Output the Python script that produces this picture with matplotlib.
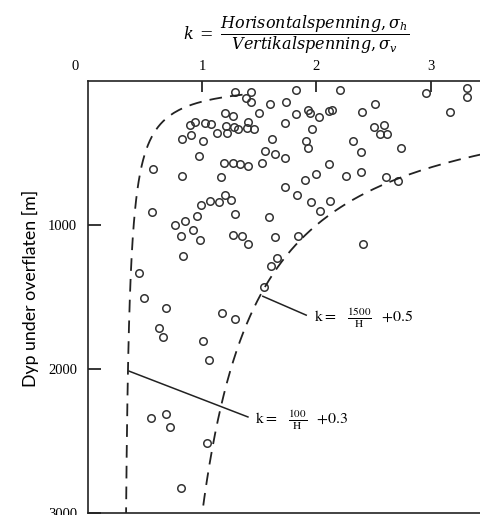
import numpy as np
import matplotlib.pyplot as plt

# k-verdier (horisontal/vertikal spenning) og dyp H [m] lest av figuren
k_obs = [1.29, 1.43, 1.38, 1.43, 1.59, 1.73, 1.82, 1.20, 1.27, 1.50,
         0.89, 0.94, 1.02, 1.08, 1.13, 0.82, 0.90, 1.01, 0.97, 0.57,
         0.82, 1.16, 1.21, 1.28, 1.31, 1.40, 1.39, 1.45, 1.22, 1.72,
         1.82, 1.93, 1.94, 2.02, 2.11, 2.14, 1.96, 1.61, 1.91, 1.93,
         1.55, 1.64, 1.72, 1.19, 1.27, 1.33, 1.40, 1.52, 1.72, 1.90,
         2.00, 2.11, 2.21, 2.40, 2.51, 2.50, 2.59, 2.56, 2.62, 2.96,
         3.32, 3.32, 3.17, 2.32, 2.39, 2.74, 2.26, 2.39, 2.61, 2.71,
         0.56, 0.76, 0.85, 0.92, 0.95, 0.99, 1.07, 0.81, 0.98, 0.83,
         0.45, 0.49, 1.15, 1.20, 1.25, 1.29, 1.58, 1.83, 1.95, 2.03,
         2.12, 1.27, 1.35, 1.40, 1.64, 1.84, 1.65, 1.60, 1.54, 2.41,
         0.68, 0.62, 0.66, 1.17, 1.29, 1.01, 1.06, 0.55, 0.68, 0.72,
         1.04, 0.81]
H_obs = [78, 74, 120, 148, 161, 143, 62, 220, 243, 220,
         305, 282, 289, 298, 358, 402, 376, 416, 518, 610,
         663, 669, 312, 317, 333, 282, 324, 333, 362, 293,
         229, 201, 224, 247, 208, 201, 333, 402, 416, 466,
         483, 508, 536, 566, 570, 575, 587, 570, 733, 686,
         644, 577, 62, 213, 159, 321, 305, 367, 367, 85,
         51, 113, 213, 418, 492, 464, 658, 631, 667, 691,
         910, 998, 975, 1033, 936, 859, 836, 1074, 1102, 1213,
         1333, 1506, 843, 795, 825, 927, 942, 795, 843, 906,
         830, 1069, 1074, 1130, 1081, 1076, 1227, 1287, 1430, 1130,
         1575, 1714, 1779, 1610, 1656, 1804, 1938, 2342, 2315, 2400,
         2511, 2823]

# grensekurver k = a/H + b
a_lo, b_lo = 100, 0.3
a_hi, b_hi = 1500, 0.5

fig = plt.figure(figsize=(4.81, 5.15), dpi=100)
ax = fig.add_axes([88/481, 1 - 513/515, 1 - 88/481, (513 - 81)/515])
ax.set_xlim(0, 3.44)
ax.set_ylim(3000, 0)

ax.plot(k_obs, H_obs, 'o', mfc='none', mec='#333333', ms=5.4, mew=1.1, clip_on=False)

H1 = np.linspace(95, 3000, 300)
ax.plot(a_lo/H1 + b_lo, H1, color='#222222', lw=1.3, dashes=(7, 4.5))
H2 = np.linspace(470, 3000, 300)
ax.plot(a_hi/H2 + b_hi, H2, color='#222222', lw=1.3, dashes=(7, 4.5))

# pekelinjer til formlene
ax.plot([1.53, 1.91], [1495, 1626], color='#222222', lw=1.1)
ax.plot([0.36, 1.40], [2015, 2333], color='#222222', lw=1.1)
ax.text(1.98, 1650, r'$\mathrm{k}{=}\;\;\;\frac{1500}{\mathrm{H}}\;\;\;\mathrm{+0.5}$',
        fontsize=11.5, math_fontfamily='stix', va='center', ha='left')
ax.text(1.46, 2355, r'$\mathrm{k}{=}\;\;\;\frac{100}{\mathrm{H}}\;\;\;\mathrm{+0.3}$',
        fontsize=11.5, math_fontfamily='stix', va='center', ha='left')

for s in ['top', 'left', 'bottom']:
    ax.spines[s].set_linewidth(1.2)
    ax.spines[s].set_color('#222222')
ax.spines['right'].set_visible(False)

ax.xaxis.tick_top()
ax.set_xticks([1, 2, 3])
ax.set_xticklabels(['1', '2', '3'], fontfamily='Liberation Serif', fontsize=10.5)
ax.tick_params(axis='x', direction='in', length=8, width=1.1, pad=6)
ax.set_yticks([1000, 2000, 3000])
ax.set_yticklabels(['1000', '2000', '3000'], fontfamily='Liberation Serif', fontsize=10.5)
ax.tick_params(axis='y', direction='in', length=9, width=1.1, pad=8)

fig.text(75/481, 1 - 67/515, '0', fontfamily='Liberation Serif', fontsize=10.5,
         ha='center', va='center')
fig.text(30/481, 1 - 288/515, 'Dyp under overflaten [m]', fontfamily='Lato',
         fontsize=12.8, rotation=90, ha='center', va='center')
fig.text(296/481, 1 - 35/515,
         r'$k\;=\;\dfrac{Horisontalspenning,\sigma_h}{Vertikalspenning,\sigma_v}$',
         fontsize=11.5, math_fontfamily='dejavuserif', ha='center', va='center')

fig.savefig('out.png', dpi=100)
